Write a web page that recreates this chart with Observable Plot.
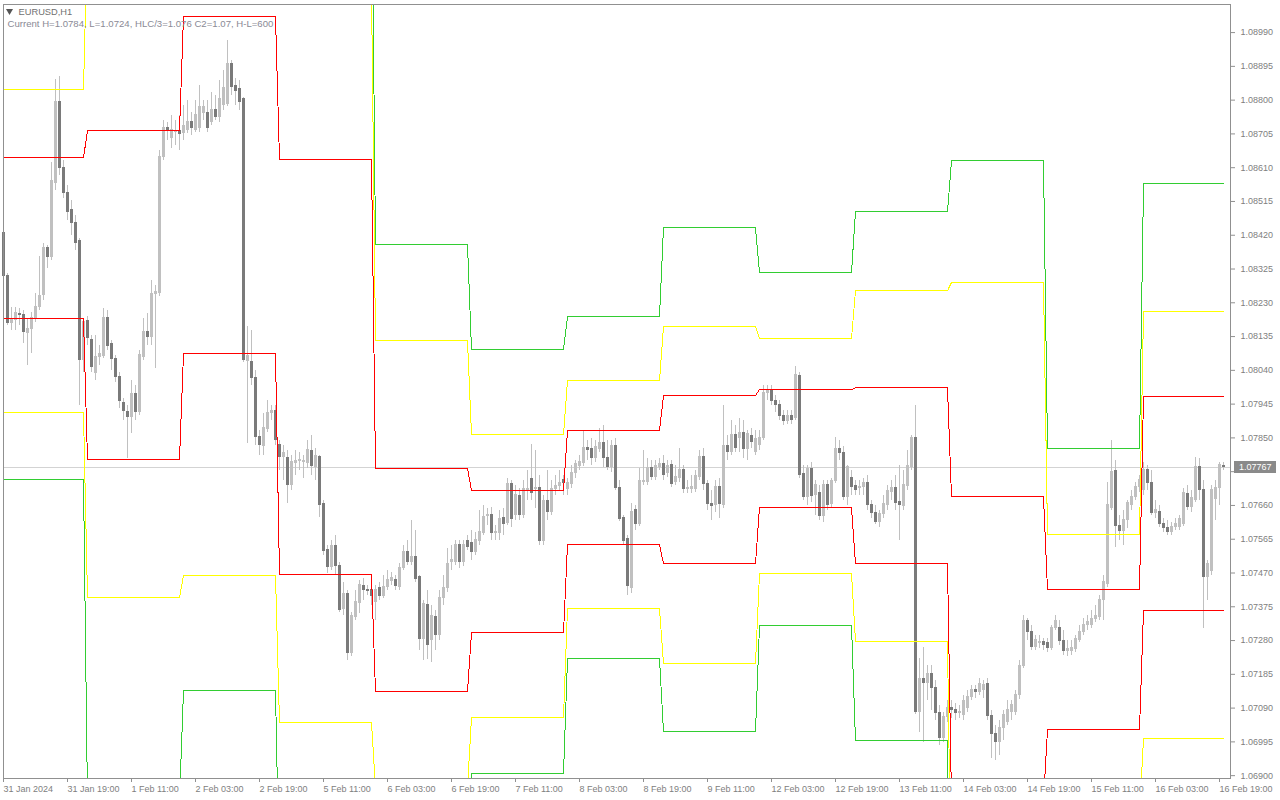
<!DOCTYPE html>
<html><head><meta charset="utf-8">
<script src="https://cdn.jsdelivr.net/npm/d3@7"></script>
<script src="https://cdn.jsdelivr.net/npm/@observablehq/plot@0.6"></script>
<style>
html,body{margin:0;padding:0;background:#fff;}
#chart{width:1280px;height:800px;overflow:hidden;}
</style></head><body><div id="chart"></div>
<script>
const symbolName = "EURUSD,H1";
const infoLine = "Current H=1.0784, L=1.0724, HLC/3=1.076 C2=1.07, H-L=600";
const lastPrice = 1.07767;

const open = [
1.08424,1.08303,1.08171,1.08180,1.08197,1.08194,1.08143,1.08154,1.08185,1.08216,
1.08250,1.08382,1.08357,1.08566,1.08793,1.08608,1.08537,1.08489,1.08452,1.08402,
1.08067,1.08177,1.08123,1.08031,1.08076,1.08078,1.08185,1.08112,1.08070,1.08019,
1.07947,1.07921,1.07907,1.07972,1.07921,1.08076,1.08146,1.08132,1.08253,1.08256,
1.08639,1.08720,1.08692,1.08709,1.08712,1.08706,1.08715,1.08737,1.08715,1.08720,
1.08762,1.08762,1.08737,1.08771,1.08751,1.08785,1.08788,1.08900,1.08838,1.08830,
1.08802,1.08064,1.08062,1.08017,1.07851,1.07826,1.07873,1.07918,1.07924,1.07828,
1.07795,1.07792,1.07716,1.07778,1.07784,1.07781,1.07778,1.07812,1.07767,1.07795,
1.07663,1.07533,1.07486,1.07545,1.07488,1.07367,1.07410,1.07243,1.07344,1.07384,
1.07432,1.07421,1.07421,1.07386,1.07426,1.07404,1.07429,1.07446,1.07449,1.07429,
1.07483,1.07528,1.07500,1.07514,1.07457,1.07282,1.07378,1.07279,1.07344,1.07294,
1.07398,1.07426,1.07500,1.07500,1.07547,1.07500,1.07559,1.07553,1.07528,1.07559,
1.07581,1.07629,1.07632,1.07581,1.07581,1.07623,1.07609,1.07719,1.07632,1.07685,
1.07632,1.07700,1.07733,1.07705,1.07708,1.07559,1.07671,1.07640,1.07705,1.07713,
1.07730,1.07705,1.07719,1.07750,1.07769,1.07778,1.07820,1.07817,1.07792,1.07817,
1.07834,1.07792,1.07767,1.07826,1.07708,1.07623,1.07564,1.07426,1.07646,1.07607,
1.07724,1.07724,1.07764,1.07739,1.07767,1.07775,1.07750,1.07772,1.07724,1.07736,
1.07758,1.07705,1.07705,1.07705,1.07739,1.07795,1.07719,1.07663,1.07660,1.07710,
1.07660,1.07826,1.07809,1.07857,1.07848,1.07862,1.07817,1.07854,1.07809,1.07828,
1.07848,1.07975,1.07980,1.07952,1.07941,1.07910,1.07896,1.07910,1.07904,1.08022,
1.07747,1.07682,1.07761,1.07688,1.07693,1.07629,1.07716,1.07663,1.07727,1.07817,
1.07806,1.07682,1.07736,1.07713,1.07708,1.07710,1.07722,1.07660,1.07637,1.07612,
1.07635,1.07660,1.07696,1.07708,1.07668,1.07657,1.07713,1.07767,1.07848,1.07077,
1.07170,1.07159,1.07184,1.07144,1.07074,1.07004,1.07063,1.07088,1.07083,1.07074,
1.07069,1.07088,1.07119,1.07139,1.07133,1.07139,1.07156,1.07066,1.07015,1.06993,
1.07032,1.07049,1.07077,1.07077,1.07125,1.07206,1.07333,1.07302,1.07260,1.07271,
1.07274,1.07271,1.07257,1.07313,1.07313,1.07277,1.07248,1.07248,1.07254,1.07279,
1.07302,1.07322,1.07322,1.07339,1.07344,1.07392,1.07438,1.07651,1.07755,1.07601,
1.07587,1.07618,1.07660,1.07682,1.07710,1.07702,1.07758,1.07722,1.07637,1.07640,
1.07607,1.07595,1.07584,1.07598,1.07598,1.07607,1.07691,1.07654,1.07674,1.07767,
1.07702,1.07457,1.07474,1.07677,1.07708,1.07769];

const high = [
1.08438,1.08312,1.08216,1.08216,1.08213,1.08208,1.08185,1.08202,1.08255,1.08359,
1.08396,1.08390,1.08625,1.08858,1.08866,1.08630,1.08560,1.08517,1.08475,1.08410,
1.08185,1.08191,1.08138,1.08138,1.08109,1.08213,1.08208,1.08123,1.08081,1.08033,
1.07960,1.07941,1.08011,1.07997,1.08095,1.08185,1.08199,1.08292,1.08278,1.08658,
1.08743,1.08737,1.08757,1.08743,1.08757,1.08785,1.08799,1.08765,1.08799,1.08841,
1.08799,1.08799,1.08821,1.08813,1.08855,1.08883,1.08967,1.08911,1.08861,1.08855,
1.08807,1.08163,1.08152,1.08039,1.07871,1.07918,1.07955,1.07941,1.07941,1.07842,
1.07828,1.07814,1.07800,1.07814,1.07809,1.07800,1.07842,1.07857,1.07820,1.07800,
1.07674,1.07547,1.07561,1.07575,1.07500,1.07443,1.07421,1.07358,1.07421,1.07449,
1.07455,1.07435,1.07435,1.07435,1.07443,1.07463,1.07477,1.07472,1.07463,1.07497,
1.07547,1.07561,1.07618,1.07590,1.07463,1.07392,1.07421,1.07378,1.07364,1.07421,
1.07463,1.07539,1.07547,1.07561,1.07561,1.07561,1.07575,1.07590,1.07584,1.07646,
1.07660,1.07651,1.07654,1.07604,1.07646,1.07651,1.07736,1.07730,1.07716,1.07708,
1.07730,1.07758,1.07831,1.07814,1.07744,1.07688,1.07758,1.07730,1.07744,1.07758,
1.07744,1.07736,1.07772,1.07786,1.07800,1.07871,1.07842,1.07848,1.07842,1.07876,
1.07885,1.07842,1.07842,1.07848,1.07730,1.07632,1.07575,1.07666,1.07660,1.07764,
1.07814,1.07792,1.07786,1.07786,1.07792,1.07800,1.07786,1.07786,1.07772,1.07820,
1.07772,1.07730,1.07744,1.07758,1.07814,1.07820,1.07730,1.07702,1.07730,1.07736,
1.07941,1.07857,1.07899,1.07885,1.07904,1.07899,1.07871,1.07876,1.07871,1.07871,
1.07997,1.07997,1.07997,1.07969,1.07955,1.07927,1.07927,1.07927,1.08050,1.08033,
1.07772,1.07772,1.07781,1.07730,1.07716,1.07730,1.07730,1.07736,1.07851,1.07842,
1.07826,1.07772,1.07758,1.07730,1.07730,1.07736,1.07744,1.07674,1.07660,1.07646,
1.07688,1.07716,1.07730,1.07744,1.07772,1.07758,1.07814,1.07857,1.07941,1.07229,
1.07260,1.07209,1.07209,1.07167,1.07097,1.07077,1.07111,1.07111,1.07103,1.07097,
1.07125,1.07139,1.07153,1.07153,1.07172,1.07167,1.07172,1.07083,1.07041,1.07055,
1.07083,1.07111,1.07111,1.07139,1.07223,1.07350,1.07341,1.07322,1.07294,1.07294,
1.07285,1.07285,1.07322,1.07350,1.07336,1.07308,1.07279,1.07279,1.07294,1.07322,
1.07341,1.07350,1.07364,1.07378,1.07407,1.07463,1.07724,1.07842,1.07786,1.07632,
1.07646,1.07674,1.07702,1.07724,1.07744,1.07781,1.07772,1.07758,1.07674,1.07660,
1.07623,1.07618,1.07612,1.07623,1.07632,1.07708,1.07716,1.07702,1.07795,1.07792,
1.07730,1.07505,1.07716,1.07730,1.07781,1.07781];

const low = [
1.08286,1.08166,1.08152,1.08152,1.08166,1.08115,1.08053,1.08087,1.08174,1.08208,
1.08236,1.08326,1.08348,1.08546,1.08588,1.08523,1.08461,1.08419,1.08376,1.07941,
1.08033,1.08109,1.08033,1.08011,1.08053,1.08073,1.08095,1.08039,1.08005,1.07932,
1.07899,1.07792,1.07862,1.07899,1.07913,1.08067,1.08109,1.08109,1.08045,1.08247,
1.08630,1.08686,1.08664,1.08672,1.08658,1.08686,1.08706,1.08701,1.08709,1.08709,
1.08743,1.08709,1.08729,1.08743,1.08737,1.08771,1.08782,1.08813,1.08785,1.08771,
1.08062,1.07834,1.07997,1.07828,1.07800,1.07800,1.07865,1.07899,1.07828,1.07758,
1.07730,1.07666,1.07702,1.07744,1.07758,1.07736,1.07764,1.07744,1.07730,1.07626,
1.07519,1.07469,1.07477,1.07463,1.07358,1.07350,1.07223,1.07234,1.07336,1.07355,
1.07392,1.07407,1.07378,1.07336,1.07392,1.07398,1.07421,1.07435,1.07421,1.07421,
1.07477,1.07491,1.07491,1.07443,1.07251,1.07223,1.07228,1.07218,1.07251,1.07279,
1.07378,1.07415,1.07477,1.07491,1.07483,1.07488,1.07533,1.07505,1.07519,1.07547,
1.07575,1.07604,1.07561,1.07561,1.07561,1.07575,1.07604,1.07598,1.07618,1.07618,
1.07623,1.07674,1.07674,1.07651,1.07547,1.07547,1.07618,1.07632,1.07688,1.07702,
1.07688,1.07688,1.07708,1.07736,1.07758,1.07769,1.07786,1.07772,1.07781,1.07809,
1.07767,1.07758,1.07753,1.07702,1.07615,1.07547,1.07407,1.07412,1.07590,1.07601,
1.07716,1.07716,1.07730,1.07730,1.07758,1.07730,1.07739,1.07711,1.07716,1.07724,
1.07693,1.07693,1.07693,1.07696,1.07730,1.07702,1.07646,1.07618,1.07640,1.07623,
1.07651,1.07786,1.07800,1.07809,1.07809,1.07792,1.07786,1.07820,1.07800,1.07814,
1.07842,1.07955,1.07941,1.07921,1.07899,1.07885,1.07887,1.07887,1.07899,1.07736,
1.07674,1.07660,1.07668,1.07632,1.07618,1.07612,1.07646,1.07651,1.07722,1.07786,
1.07674,1.07660,1.07688,1.07688,1.07688,1.07688,1.07646,1.07623,1.07607,1.07598,
1.07623,1.07646,1.07674,1.07646,1.07561,1.07646,1.07702,1.07758,1.07072,1.07021,
1.06993,1.07111,1.07083,1.07055,1.06984,1.06993,1.07049,1.07060,1.07055,1.07060,
1.07055,1.07077,1.07111,1.07116,1.07125,1.07116,1.07055,1.06948,1.06942,1.06956,
1.06998,1.07041,1.07055,1.07069,1.07114,1.07201,1.07279,1.07251,1.07251,1.07257,
1.07251,1.07246,1.07251,1.07308,1.07265,1.07237,1.07234,1.07237,1.07246,1.07274,
1.07294,1.07308,1.07313,1.07330,1.07336,1.07336,1.07429,1.07646,1.07542,1.07561,
1.07547,1.07595,1.07646,1.07674,1.07696,1.07688,1.07702,1.07632,1.07623,1.07598,
1.07584,1.07575,1.07575,1.07590,1.07590,1.07601,1.07646,1.07640,1.07668,1.07674,
1.07313,1.07392,1.07463,1.07618,1.07660,1.07758];

const close = [
1.08303,1.08171,1.08180,1.08199,1.08194,1.08146,1.08154,1.08185,1.08216,1.08247,
1.08382,1.08357,1.08571,1.08793,1.08608,1.08537,1.08483,1.08452,1.08396,1.08067,
1.08174,1.08129,1.08048,1.08076,1.08084,1.08185,1.08107,1.08070,1.08019,1.07952,
1.07924,1.07907,1.07972,1.07921,1.08081,1.08146,1.08132,1.08253,1.08258,1.08639,
1.08720,1.08715,1.08715,1.08712,1.08703,1.08726,1.08737,1.08720,1.08757,1.08779,
1.08779,1.08720,1.08771,1.08751,1.08802,1.08832,1.08900,1.08835,1.08824,1.08793,
1.08067,1.08078,1.08017,1.07851,1.07828,1.07876,1.07918,1.07924,1.07842,1.07795,
1.07806,1.07716,1.07781,1.07784,1.07786,1.07784,1.07814,1.07769,1.07798,1.07660,
1.07531,1.07486,1.07545,1.07488,1.07364,1.07410,1.07243,1.07347,1.07386,1.07435,
1.07421,1.07418,1.07404,1.07421,1.07404,1.07429,1.07449,1.07455,1.07432,1.07483,
1.07528,1.07500,1.07514,1.07452,1.07282,1.07381,1.07265,1.07347,1.07294,1.07398,
1.07426,1.07494,1.07505,1.07547,1.07500,1.07547,1.07542,1.07528,1.07561,1.07584,
1.07626,1.07631,1.07581,1.07584,1.07621,1.07607,1.07719,1.07621,1.07688,1.07632,
1.07705,1.07705,1.07693,1.07708,1.07559,1.07671,1.07640,1.07705,1.07713,1.07722,
1.07722,1.07722,1.07750,1.07775,1.07781,1.07820,1.07814,1.07792,1.07823,1.07834,
1.07792,1.07767,1.07826,1.07708,1.07621,1.07559,1.07432,1.07640,1.07607,1.07727,
1.07727,1.07764,1.07739,1.07769,1.07775,1.07744,1.07769,1.07719,1.07739,1.07758,
1.07705,1.07708,1.07710,1.07741,1.07795,1.07719,1.07663,1.07657,1.07710,1.07663,
1.07826,1.07809,1.07857,1.07820,1.07862,1.07817,1.07859,1.07837,1.07845,1.07848,
1.07975,1.07980,1.07952,1.07941,1.07910,1.07896,1.07910,1.07899,1.08025,1.07744,
1.07682,1.07761,1.07685,1.07716,1.07629,1.07716,1.07660,1.07727,1.07817,1.07806,
1.07682,1.07767,1.07710,1.07702,1.07710,1.07722,1.07660,1.07637,1.07612,1.07635,
1.07663,1.07699,1.07708,1.07666,1.07660,1.07716,1.07769,1.07848,1.07077,1.07170,
1.07159,1.07184,1.07144,1.07074,1.07004,1.07063,1.07088,1.07083,1.07074,1.07077,
1.07108,1.07119,1.07139,1.07133,1.07156,1.07153,1.07066,1.07015,1.06993,1.07032,
1.07069,1.07083,1.07097,1.07125,1.07206,1.07333,1.07302,1.07260,1.07279,1.07274,
1.07265,1.07257,1.07313,1.07333,1.07277,1.07248,1.07254,1.07257,1.07282,1.07302,
1.07322,1.07330,1.07339,1.07347,1.07392,1.07443,1.07660,1.07753,1.07601,1.07587,
1.07618,1.07666,1.07682,1.07710,1.07730,1.07758,1.07722,1.07637,1.07646,1.07607,
1.07595,1.07584,1.07598,1.07607,1.07621,1.07693,1.07654,1.07679,1.07767,1.07702,
1.07457,1.07494,1.07702,1.07708,1.07772,1.07767];

// first bar index of each trading day (31 Jan ... 16 Feb)
const dayStart = [0,21,45,69,93,117,141,165,189,213,237,261,285];
// daily levels, top to bottom
const levelGreenHigh  = [1.09094,1.09674,1.09983,1.09527,1.08394,1.08098,1.08191,1.08441,1.08315,1.08486,1.08630,1.07820,1.08565];
const levelYellowHigh = [1.08830,1.09285,1.09358,1.09111,1.08124,1.07859,1.08011,1.08163,1.08129,1.08264,1.08287,1.07578,1.08205];
const levelRedHigh    = [1.08638,1.08714,1.09035,1.08633,1.07764,1.07702,1.07870,1.07969,1.07986,1.07991,1.07685,1.07423,1.07966];
const levelRedLow     = [1.08185,1.07789,1.08087,1.07465,1.07136,1.07302,1.07550,1.07496,1.07654,1.07496,1.06830,1.07029,1.07364];
const levelYellowLow  = [1.07921,1.07401,1.07463,1.07049,1.06866,1.07063,1.07370,1.07215,1.07468,1.07277,1.06486,1.06787,1.07004];
const levelGreenLow   = [1.07733,1.06830,1.07139,1.06571,1.06506,1.06906,1.07229,1.07024,1.07322,1.06998,1.05884,1.06633,1.06765];

const xTickBars = [0,16,32,48,64,80,96,112,128,144,160,176,192,208,224,240,256,272,288,304];
const xTickLabels = ["31 Jan 2024","31 Jan 19:00","1 Feb 11:00","2 Feb 03:00","2 Feb 19:00","5 Feb 11:00","6 Feb 03:00","6 Feb 19:00","7 Feb 11:00","8 Feb 03:00","8 Feb 19:00","9 Feb 11:00","12 Feb 03:00","12 Feb 19:00","13 Feb 11:00","14 Feb 03:00","14 Feb 19:00","15 Feb 11:00","16 Feb 03:00","16 Feb 19:00"];
const yTicks = [1.06900,1.06995,1.07090,1.07185,1.07280,1.07375,1.07470,1.07565,1.07660,1.07755,1.07850,1.07945,1.08040,1.08135,1.08230,1.08325,1.08420,1.08515,1.08610,1.08705,1.08800,1.08895,1.08990];

const N = close.length;
const bars = d3.range(N).map(i => ({i, o: open[i], h: high[i], l: low[i], c: close[i], up: close[i] >= open[i]}));
const dayOf = i => d3.bisectRight(dayStart, i) - 1;
const levels = [
  {v: levelGreenHigh, color: "#32cd32"},
  {v: levelYellowHigh, color: "#ffff00"},
  {v: levelRedHigh, color: "#ff0000"},
  {v: levelRedLow, color: "#ff0000"},
  {v: levelYellowLow, color: "#ffff00"},
  {v: levelGreenLow, color: "#32cd32"}
];
const labelMap = new Map(xTickBars.map((b, k) => [b, xTickLabels[k]]));
// the tick label hidden under the current-price box
const yLabel = d => Math.abs(d - lastPrice) < 0.0003 ? "" : d.toFixed(5);

const chart = Plot.plot({
  width: 1280, height: 800,
  marginLeft: 3, marginRight: 50, marginTop: 4, marginBottom: 22,
  style: {fontFamily: "'Liberation Sans', Arial, sans-serif", fontSize: "9px", background: "#fff", color: "#808080"},
  x: {domain: [0, 306.75], axis: null, label: null},
  y: {domain: [1.06892, 1.09069], axis: null, label: null},
  marks: [
    Plot.ruleY([lastPrice], {stroke: "#d3d3d3", shapeRendering: "crispEdges"}),
    Plot.ruleX(bars, {x: "i", y1: "l", y2: "h", stroke: "#c0c0c0", shapeRendering: "crispEdges"}),
    Plot.rect(bars, {x1: d => d.i - 0.25, x2: d => d.i + 0.5, y1: "o", y2: "c",
      fill: d => d.up ? "#c0c0c0" : "#7a7a7a", dx: -0.5, dy: -0.5,
      insetTop: -0.5, insetBottom: -0.5, shapeRendering: "crispEdges"}),
    ...levels.map(s => Plot.line(bars, {x: "i", y: d => s.v[dayOf(d.i)], stroke: s.color, strokeWidth: 1, clip: true, shapeRendering: "crispEdges"})),
    Plot.frame({stroke: "#909090", shapeRendering: "crispEdges"}),
    Plot.axisY({anchor: "right", label: null, ticks: yTicks, tickFormat: yLabel, tickSize: 4, tickPadding: 6, color: "#808080", stroke: "#909090"}),
    Plot.axisX({anchor: "bottom", label: null, ticks: xTickBars, tickFormat: d => labelMap.get(d), tickSize: 4, tickPadding: 3, textAnchor: "start", color: "#808080", stroke: "#909090"}),
    Plot.dot([0], {frameAnchor: "top-left", dx: 6, dy: 6.5, symbol: "triangle", rotate: 180, r: 2.6, fill: "#555", stroke: null}),
    Plot.text([symbolName], {frameAnchor: "top-left", dx: 15, dy: 3.6, text: d => d, lineAnchor: "top", textAnchor: "start", fill: "#707070", fontSize: 9.3}),
    Plot.text([infoLine], {frameAnchor: "top-left", dx: 4, dy: 16, text: d => d, lineAnchor: "top", textAnchor: "start", fill: "#8a8a95", fontSize: 9.6})
  ]
});
document.getElementById("chart").appendChild(chart);

// current price label on the price axis
const yy = chart.scale("y").apply(lastPrice);
const svg = d3.select(chart);
svg.append("rect").attr("x", 1234).attr("y", Math.round(yy) - 6).attr("width", 42).attr("height", 12).attr("fill", "#8a8a8a");
svg.append("text").attr("x", 1239).attr("y", yy).attr("dy", "0.32em").attr("fill", "#fff")
  .attr("text-anchor", "start")
  .attr("font-family", "'Liberation Sans', Arial, sans-serif").attr("font-size", 9).text(lastPrice.toFixed(5));
</script></body></html>
